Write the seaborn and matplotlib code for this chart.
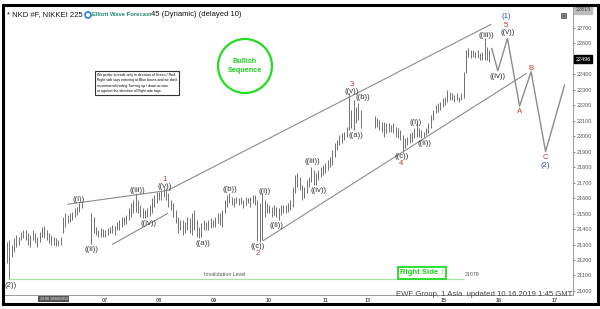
import numpy as np
import pandas as pd
import matplotlib
matplotlib.use("Agg")
import matplotlib.pyplot as plt
import matplotlib.transforms as mtrans
from matplotlib.patches import Rectangle, Ellipse
import seaborn as sns

# ---------------- data ----------------
bar_idx = list(range(0, 33)) + list(range(36, 152)) + list(range(157, 207))
highs = [21318, 21329, 21297, 21340, 21362, 21351, 21383, 21394, 21394, 21372,
         21362, 21394, 21372, 21351, 21383, 21415, 21420, 21394, 21372, 21362,
         21351, 21340, 21329, 21351, 21480, 21501, 21491, 21501, 21512, 21534,
         21544, 21570, 21566,
         21501, 21480, 21415, 21394, 21405, 21398, 21394, 21405, 21415, 21426,
         21420, 21448, 21458, 21480, 21476, 21491, 21534, 21566, 21588, 21631,
         21588, 21555, 21534, 21523, 21534, 21555, 21598, 21620, 21641, 21641,
         21652, 21667, 21663, 21631, 21588, 21566, 21523, 21480, 21458, 21458,
         21448, 21480, 21469, 21501, 21523, 21458, 21415, 21437, 21458, 21448,
         21458, 21469, 21458, 21480, 21501, 21501, 21523, 21588, 21620, 21631,
         21609, 21598, 21609, 21598, 21609, 21588, 21609, 21598, 21609, 21620,
         21620, 21588, 21566, 21631, 21588, 21566, 21555, 21544, 21555, 21544,
         21534, 21555, 21555, 21555, 21566, 21588, 21674, 21749, 21760, 21738,
         21684, 21674, 21717, 21738, 21803, 21781, 21760, 21781, 21803, 21813,
         21824, 21846, 21867, 21910, 21953, 21975, 22007, 22018, 22029, 22061,
         22276, 22169, 22233, 22190, 22212, 22169,
         22130, 22115, 22104, 22093, 22093, 22082, 22082, 22072, 22082, 22061,
         22050, 22039, 22007, 21986, 21996, 22018, 22029, 22050, 22082, 22050,
         22039, 22029, 22050, 22082, 22136, 22169, 22201, 22212, 22222, 22244,
         22255, 22298, 22287, 22276, 22265, 22276, 22255, 22276, 22416, 22556,
         22567, 22556, 22556, 22545, 22556, 22534, 22545, 22631, 22577, 22556]
lows = [21179, 21079, 21222, 21254, 21286, 21297, 21329, 21340, 21329, 21297,
        21286, 21329, 21308, 21286, 21318, 21351, 21340, 21329, 21308, 21297,
        21297, 21291, 21291, 21297, 21372, 21415, 21437, 21448, 21458, 21480,
        21491, 21512, 21534,
        21301, 21372, 21362, 21351, 21346, 21351, 21346, 21362, 21372, 21372,
        21362, 21394, 21394, 21415, 21426, 21433, 21458, 21480, 21501, 21512,
        21501, 21480, 21469, 21469, 21480, 21484, 21501, 21544, 21566, 21588,
        21588, 21609, 21588, 21544, 21523, 21480, 21437, 21372, 21394, 21362,
        21372, 21394, 21372, 21362, 21394, 21351, 21340, 21346, 21394, 21394,
        21394, 21405, 21415, 21415, 21437, 21426, 21415, 21501, 21544, 21566,
        21555, 21544, 21566, 21555, 21562, 21534, 21555, 21566, 21544, 21566,
        21555, 21325, 21318, 21329, 21480, 21501, 21501, 21480, 21491, 21480,
        21458, 21491, 21501, 21501, 21512, 21523, 21544, 21631, 21674, 21652,
        21588, 21598, 21631, 21674, 21706, 21684, 21684, 21717, 21738, 21749,
        21760, 21781, 21803, 21813, 21867, 21910, 21943, 21953, 21975, 21996,
        22039, 22050, 22039, 22082, 22104, 22050,
        22050, 22061, 22039, 22029, 21996, 22018, 22029, 22029, 22018, 21996,
        21986, 21975, 21900, 21921, 21943, 21953, 21964, 21986, 21996, 21996,
        21986, 21992, 22007, 22018, 22050, 22104, 22147, 22158, 22169, 22190,
        22201, 22222, 22233, 22233, 22222, 22233, 22222, 22233, 22244, 22405,
        22513, 22502, 22513, 22502, 22502, 22491, 22491, 22491, 22491, 22481]

# projected path
path_idx = [207, 209.6, 213.7, 218.9, 223.8, 230.0, 238.1]
path_price = [22567, 22422, 22631, 22194, 22416, 21900, 22330]

# channel / trend lines (x0, y0, x1, y1)
chan_x0 = [26, 45, 69.5, 109.4]
chan_y0 = [21560, 21301, 21656, 21325]
chan_x1 = [70, 68.7, 206.7, 221.8]
chan_y1 = [21652, 21501, 22722, 22405]

invalidation = 21079
last_price = 22496
top_price = 22815

# wave labels: text, x, y, colour key
lab_text = ["((i))", "((ii))", "((iii))", "((iv))", "((v))", "1",
            "((a))", "((b))", "((c))", "2",
            "((i))", "((ii))", "((iii))", "((iv))", "((v))", "3",
            "((a))", "((b))", "((c))", "4",
            "((i))", "((ii))", "((iii))", "((iv))", "((v))", "5", "(1)",
            "A", "B", "C", "(2)"]
lab_x = [30.5, 36.2, 55.7, 60.3, 67.4, 67.4,
         83.7, 95.1, 107, 107,
         110, 115.1, 130.6, 133.1, 147.4, 147.2,
         149, 151.8, 168.4, 168.4,
         174.6, 178.3, 204.7, 209.6, 213.7, 213.2, 213.2,
         218.9, 223.8, 230, 230]
lab_y = [21592, 21269, 21648, 21433, 21674, 21723,
         21308, 21658, 21286, 21243,
         21641, 21426, 21835, 21648, 22287, 22336,
         22007, 22248, 21867, 21824,
         22089, 21953, 22653, 22384, 22670, 22717, 22771,
         22158, 22437, 21861, 21809]
lab_col = ["k", "k", "k", "k", "k", "r",
           "k", "k", "k", "r",
           "k", "k", "k", "k", "k", "r",
           "k", "k", "k", "r",
           "k", "k", "k", "k", "k", "r", "b",
           "r", "r", "r", "b"]

tick_pos = [42, 65, 88.5, 112, 136, 154, 186.5, 210, 234]
tick_lab = ["07", "08", "09", "10", "11", "13", "15", "16", "17"]
ytick_vals = list(range(21000, 22800, 100))

# ---------------- figure ----------------
sns.set_theme(style="white")
plt.rcParams['font.family'] = ['Liberation Sans', 'DejaVu Sans']

W, H = 600, 309
fig = plt.figure(figsize=(W / 100, H / 100), dpi=100)
fig.patch.set_facecolor("white")

def fx(px):
    return px / W

def fy(py):
    return 1 - py / H

ax = fig.add_axes([fx(5), fy(295), fx(573) - fx(5), fy(7) - fy(295)])
ax.set_facecolor("white")

# OHLC-style bars
ax.vlines(bar_idx, lows, highs, color="#4a4a4a", lw=0.55)

# trend / channel lines
seg = pd.DataFrame({
    "x": [v for pair in zip(chan_x0, chan_x1) for v in pair],
    "y": [v for pair in zip(chan_y0, chan_y1) for v in pair],
    "line": [i for i in range(len(chan_x0)) for _ in range(2)],
})
sns.lineplot(data=seg, x="x", y="y", units="line", estimator=None, sort=False,
             color="#8c8c8c", lw=0.8, ax=ax, legend=False)

# projected path
path = pd.DataFrame({"x": path_idx, "y": path_price})
sns.lineplot(data=path, x="x", y="y", sort=False, color="#8c8c8c", lw=1.0,
             ax=ax, legend=False)

# invalidation level
ax.plot([1.2, 195], [invalidation, invalidation], color="#a6e3a6", lw=0.9)
ax.text(92.8, invalidation + 12, "Invalidation Level", fontsize=3.8,
        color="#555555", ha="center", va="bottom")
ax.text(198.5, invalidation + 12, str(invalidation), fontsize=3.8,
        color="#555555", ha="center", va="bottom")

# wave labels
cmap = {"k": "#333333", "r": "#c0392b", "b": "#2f4fa8"}
for t, x, y, c in zip(lab_text, lab_x, lab_y, lab_col):
    ax.text(x, y, t, fontsize=5.6, color=cmap[c], ha="center", va="center")
ax.text(-1.0, 21034, "(2))", fontsize=5.6, color="#333333", ha="left", va="center")

# axes settings
ax.set_xlim(-0.8, 241.7)
ax.set_ylim(20974, 22834)
ax.set_xlabel("")
ax.set_ylabel("")
ax.set_xticks(tick_pos)
ax.set_xticklabels(tick_lab, fontsize=4, fontweight="bold", color="#333333")
ax.yaxis.tick_right()
ax.set_yticks(ytick_vals)
ax.set_yticklabels([str(v) for v in ytick_vals], fontsize=4, color="#333333")
ax.tick_params(axis="both", length=1.5, width=0.5, pad=1, colors="#555555")
for s in ["left", "top"]:
    ax.spines[s].set_visible(False)
for s in ["right", "bottom"]:
    ax.spines[s].set_color("#999999")
    ax.spines[s].set_linewidth(0.7)

# current price tags
trans = mtrans.blended_transform_factory(ax.transAxes, ax.transData)
ax.text(1.004, last_price, str(last_price), transform=trans, fontsize=4,
        color="white", ha="left", va="center",
        bbox=dict(boxstyle="square,pad=0.25", fc="black", ec="black"))
ax.text(1.004, top_price, str(top_price), transform=trans, fontsize=4,
        color="#444444", ha="left", va="center",
        bbox=dict(boxstyle="square,pad=0.25", fc="#bdbdbd", ec="#bdbdbd"))

# small icon top right
fig.patches.append(Rectangle((fx(561), fy(18)), 5 / W, 5 / H,
                             transform=fig.transFigure, fc="#777777", ec="#555555", lw=0.5))

# Bullish Sequence circle
ax.add_patch(Ellipse(((245 - 5) / 568, 1 - (66 - 7) / 288), 54 / 568, 54 / 288,
                     transform=ax.transAxes, fill=False, ec="#22dd22", lw=1.6))
ax.text((245 - 5) / 568, 1 - (66 - 7) / 288, "Bullish\nSequence",
        transform=ax.transAxes, fontsize=5.2, fontweight="bold",
        color="#22cc22", ha="center", va="center", linespacing=1.4)

# disclaimer box
fig.text(fx(97), fy(83),
         "We prefer to trade only in direction of Green / Red\n"
         "Right side tags entering at Blue boxes and we don't\n"
         "recommend trading Turning up / down arrows\n"
         "or against the direction of Right side tags.",
         fontsize=2.5, color="black", ha="left", va="center", linespacing=1.4,
         bbox=dict(boxstyle="square,pad=0.6", fc="white", ec="#333333", lw=0.8))

# Right Side tag
fig.text(fx(422), fy(273), "Right Side \u2191", fontsize=5.6, fontweight="bold",
         color="#22cc22", ha="center", va="center",
         bbox=dict(boxstyle="square,pad=0.3", fc="white", ec="#22dd22", lw=1.3))

# header
fig.text(fx(7), fy(15), "* NKD #F, NIKKEI 225", fontsize=5.5, color="#111111",
         ha="left", va="center")
ax.add_patch(Ellipse((fx(88), fy(15)), 6 / W, 6 / H, transform=fig.transFigure,
                     fill=False, ec="#2a7fd4", lw=1.2))
fig.text(fx(92.5), fy(15), "Elliott Wave Forecast", fontsize=4.2,
         fontweight="bold", color="#1f8a70", ha="left", va="center")
fig.text(fx(151), fy(15), "45 (Dynamic) (delayed 10)", fontsize=5.5,
         color="#111111", ha="left", va="center")

# bottom-left date tag
fig.patches.append(Rectangle((fx(38), fy(302)), 31 / W, 6 / H,
                             transform=fig.transFigure, fc="#555555", ec="none"))
fig.text(fx(53.5), fy(299), "20:00 10/04/2019", fontsize=2.6, color="white",
         ha="center", va="center")

# footer
fig.text(fx(572), fy(294), "EWF Group, 1 Asia  updated 10.16.2019 1:45 GMT",
         fontsize=5.6, color="#444444", ha="right", va="center")

# outer frame
fig.patches.append(Rectangle((fx(3), fy(304)), fx(598) - fx(3), fy(5) - fy(304),
                             transform=fig.transFigure, fill=False,
                             ec="black", lw=2.2))

fig.savefig("out.png", dpi=100)
